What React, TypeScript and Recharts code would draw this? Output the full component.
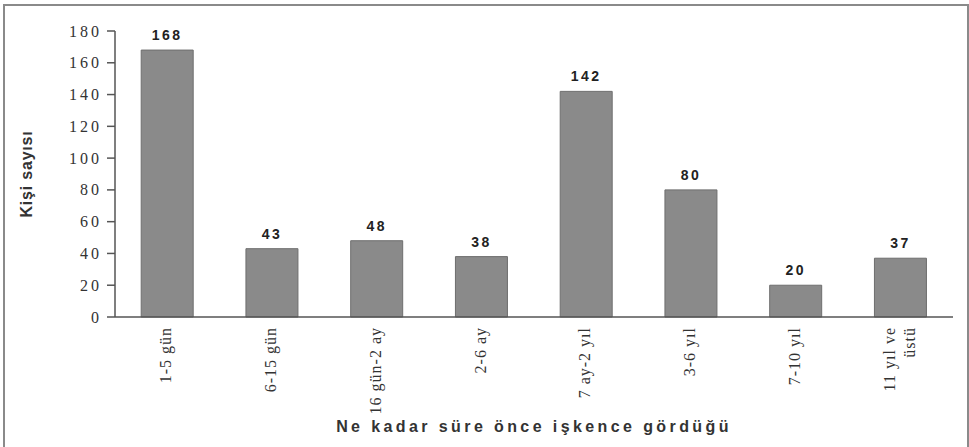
import React from 'react';
import { BarChart, Bar, XAxis, YAxis, LabelList } from 'recharts';

const periods = ['1-5 gün', '6-15 gün', '16 gün-2 ay', '2-6 ay', '7 ay-2 yıl', '3-6 yıl', '7-10 yıl', '11 yıl ve\nüstü'];
const counts = [168, 43, 48, 38, 142, 80, 20, 37];
const yTicks = [0, 20, 40, 60, 80, 100, 120, 140, 160, 180];

const data = periods.map((p, i) => ({ period: p, count: counts[i] }));

const serif = '"Liberation Serif", "Times New Roman", serif';
const sans = '"Liberation Sans", Arial, sans-serif';

// rotated category label, may wrap on \n
const PeriodTick = ({ x, y, payload }: any) => {
  const lines = String(payload.value).split('\n');
  const lh = 20;
  const start = -((lines.length - 1) * lh) / 2;
  return (
    <g transform={`translate(${x},${y})`}>
      {lines.map((ln, i) => (
        <text
          key={i}
          transform="rotate(-90)"
          x={0}
          y={start + i * lh}
          dy="0.25em"
          textAnchor="end"
          fontFamily={serif}
          fontSize={16}
          letterSpacing={1}
          fill="#333"
        >
          {ln}
        </text>
      ))}
    </g>
  );
};

const CountTick = ({ x, y, payload }: any) => (
  <text
    x={x}
    y={y}
    dy="0.35em"
    textAnchor="end"
    fontFamily={serif}
    fontSize={16}
    letterSpacing={3}
    fill="#333"
  >
    {payload.value}
  </text>
);

const App: React.FC = () => {
  return (
    <div style={{ position: 'absolute', left: 0, top: 0, width: 969, height: 447, background: '#fff' }}>
      <div
        style={{
          position: 'absolute',
          left: 3,
          top: 4,
          width: 962,
          height: 460,
          borderTop: '2px solid #8a8a8a',
          borderLeft: '2px solid #8a8a8a',
          borderRight: '2px solid #8a8a8a',
        }}
      />
      <div style={{ position: 'absolute', left: 0, top: 0 }}>
        <BarChart
          width={969}
          height={447}
          data={data}
          margin={{ top: 31, right: 16, left: 0, bottom: 40 }}
          barCategoryGap="25%"
        >
          <XAxis
            dataKey="period"
            interval={0}
            height={90}
            tickLine={false}
            axisLine={{ stroke: '#555', strokeWidth: 1.5 }}
            tick={<PeriodTick />}
            tickMargin={4}
            label={{
              value: 'Ne kadar süre önce işkence gördüğü',
              position: 'bottom',
              offset: 14,
              fontFamily: sans,
              fontWeight: 'bold',
              fontSize: 16,
              letterSpacing: 3.4,
              fill: '#333',
            }}
          />
          <YAxis
            width={115}
            domain={[0, 180]}
            ticks={yTicks}
            interval={0}
            tickSize={8}
            tickMargin={5}
            tickLine={{ stroke: '#555', strokeWidth: 1.5 }}
            axisLine={{ stroke: '#555', strokeWidth: 1.5 }}
            tick={<CountTick />}
            label={{
              value: 'Kişi sayısı',
              angle: -90,
              position: 'insideLeft',
              offset: 26,
              style: { textAnchor: 'middle' },
              fontFamily: sans,
              fontWeight: 'bold',
              fontSize: 16,
              letterSpacing: 0.8,
              fill: '#333',
            }}
          />
          <Bar dataKey="count" fill="#8a8a8a" stroke="#6e6e6e" strokeWidth={1} isAnimationActive={false}>
            <LabelList
              dataKey="count"
              position="top"
              offset={10}
              fontFamily={sans}
              fontWeight="bold"
              fontSize={14}
              letterSpacing={2.5}
              fill="#222"
            />
          </Bar>
        </BarChart>
      </div>
    </div>
  );
};

export default App;
